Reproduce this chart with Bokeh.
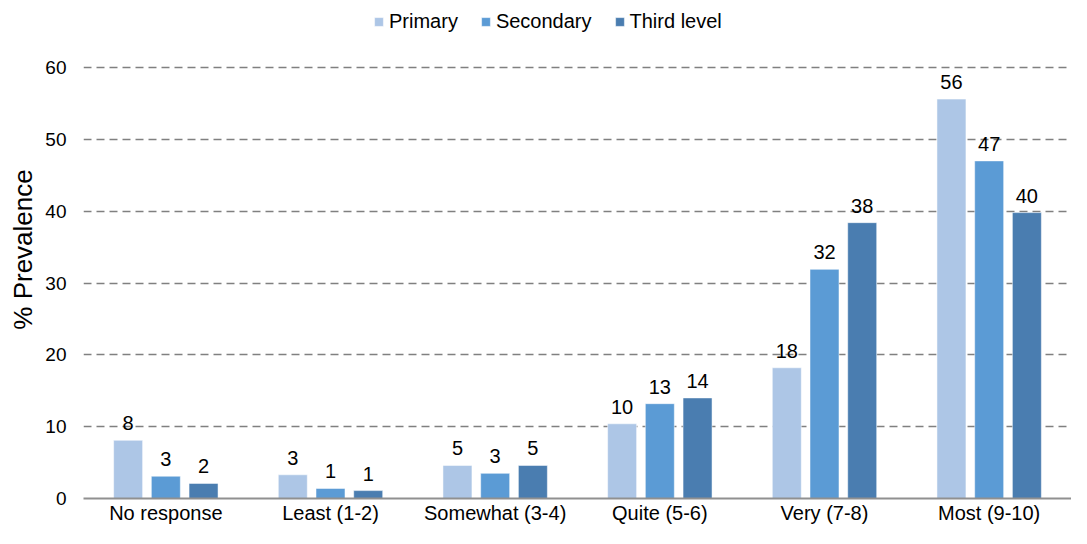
from bokeh.plotting import figure
from bokeh.models import ColumnDataSource, FactorRange, Legend, LegendItem, FixedTicker, LabelSet
from bokeh.transform import dodge
from bokeh.core.properties import value
from bokeh.embed import file_html
from bokeh.resources import INLINE

categories = ["No response", "Least (1-2)", "Somewhat (3-4)", "Quite (5-6)", "Very (7-8)", "Most (9-10)"]
series = ["Primary", "Secondary", "Third level"]
primary = [8.1, 3.3, 4.6, 10.4, 18.2, 55.6]
secondary = [3.1, 1.4, 3.5, 13.2, 31.9, 47.0]
third = [2.1, 1.1, 4.6, 14.0, 38.4, 39.8]
primary_labels = ["8", "3", "5", "10", "18", "56"]
secondary_labels = ["3", "1", "3", "13", "32", "47"]
third_labels = ["2", "1", "5", "14", "38", "40"]
colors = ["#ADC6E6", "#5B9BD5", "#4A7DB0"]
y_ticks = [0, 10, 20, 30, 40, 50, 60]

FONT = "Liberation Sans"

src = ColumnDataSource(dict(
    cat=categories,
    primary=primary, secondary=secondary, third=third,
    pl=primary_labels, sl=secondary_labels, tl=third_labels,
))

p = figure(x_range=FactorRange(*categories, range_padding=0), y_range=(0, 69.33),
           width=1071, height=528, output_backend="svg", toolbar_location=None,
           min_border_left=83, min_border_right=0, min_border_top=0, min_border_bottom=30)
p.outline_line_color = None
p.background_fill_color = "white"

offsets = [-0.229, 0.0, 0.229]
keys = ["primary", "secondary", "third"]
lbls = ["pl", "sl", "tl"]
renderers = []
for off, k, c, lk in zip(offsets, keys, colors, lbls):
    r = p.vbar(x=dodge("cat", off, range=p.x_range), top=k, width=0.176, source=src,
               fill_color=c, line_color="white", line_width=0.5)
    renderers.append(r)
    ls = LabelSet(x=dodge("cat", off, range=p.x_range), y=k, text=lk, source=src,
                  text_align="center", text_baseline="bottom", y_offset=10,
                  text_font=value(FONT), text_font_size="20px", text_color="#000000")
    p.add_layout(ls)

legend = Legend(items=[LegendItem(label=s, renderers=[r]) for s, r in zip(series, renderers)],
                orientation="horizontal", location=(290, 465),
                label_text_font=FONT, label_text_font_size="20px", label_text_color="#000000",
                glyph_width=11, glyph_height=11, spacing=22, label_standoff=5,
                border_line_color=None, background_fill_alpha=0, padding=0, margin=0)
p.add_layout(legend)

p.xgrid.grid_line_color = None
p.ygrid.grid_line_color = "#808080"
p.ygrid.grid_line_dash = "8 5"
p.ygrid.grid_line_width = 1.3
p.yaxis.ticker = FixedTicker(ticks=y_ticks)

p.yaxis.axis_line_color = None
p.yaxis.major_tick_line_color = None
p.yaxis.minor_tick_line_color = None
p.yaxis.major_tick_out = 0
p.yaxis.major_tick_in = 0
p.yaxis.minor_tick_out = 0
p.yaxis.major_label_text_font = FONT
p.yaxis.major_label_text_font_size = "19px"
p.yaxis.major_label_text_color = "#000000"
p.yaxis.major_label_standoff = 17
p.yaxis.axis_label = "% Prevalence"
p.yaxis.axis_label_text_font = FONT
p.yaxis.axis_label_text_font_size = "26px"
p.yaxis.axis_label_text_font_style = "normal"
p.yaxis.axis_label_text_color = "#000000"
p.yaxis.axis_label_standoff = 4

p.xaxis.axis_line_color = "#909090"
p.xaxis.axis_line_width = 2
p.xaxis.major_tick_line_color = None
p.xaxis.minor_tick_line_color = None
p.xaxis.major_tick_out = 0
p.xaxis.major_tick_in = 0
p.xaxis.minor_tick_out = 0
p.xaxis.major_label_text_font = FONT
p.xaxis.major_label_text_font_size = "20px"
p.xaxis.major_label_text_color = "#000000"
p.xaxis.major_label_standoff = 3

open("out.html", "w").write(file_html(p, INLINE))
